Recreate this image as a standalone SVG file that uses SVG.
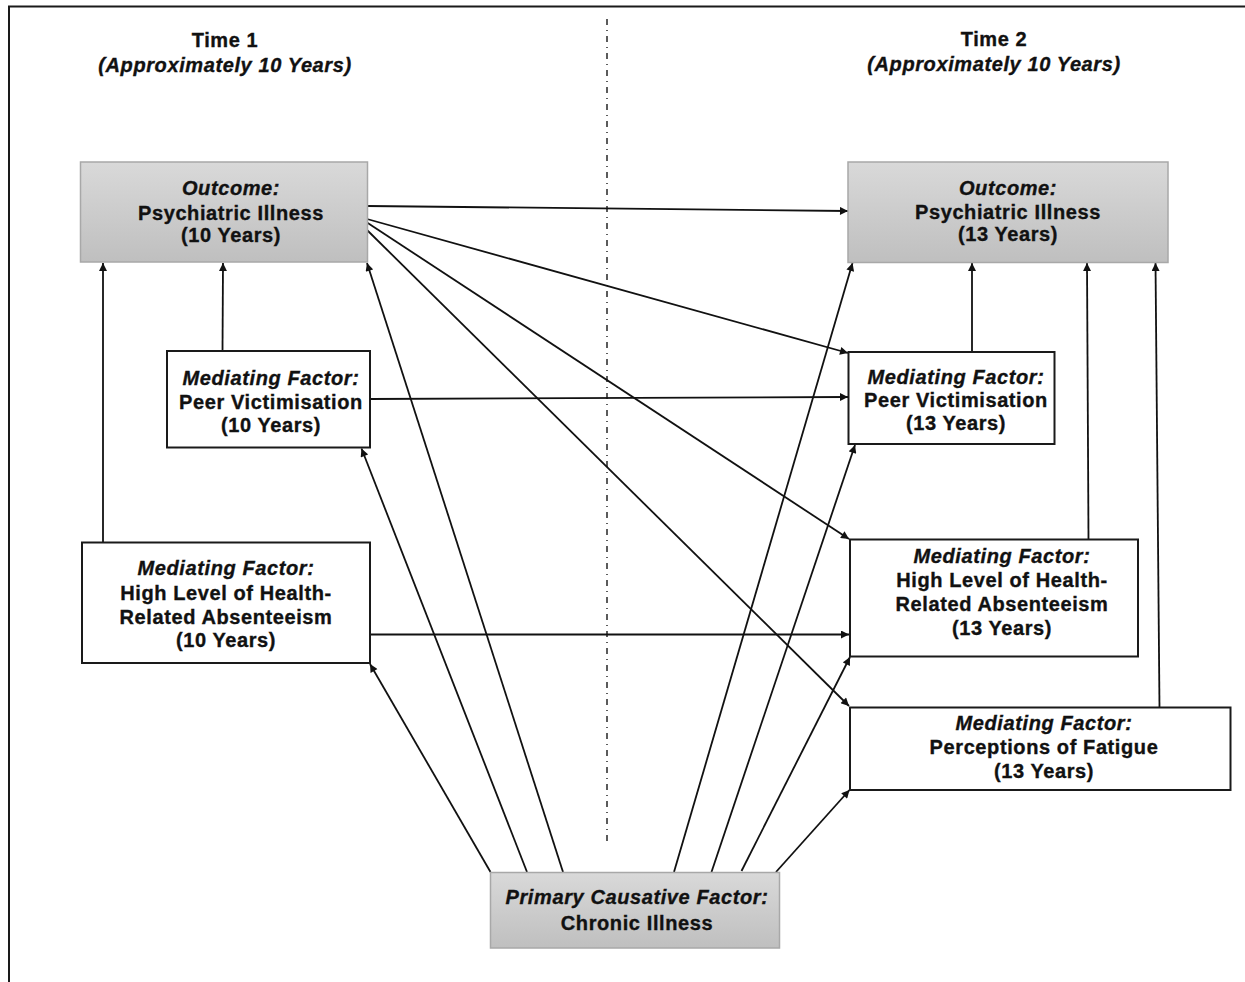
<svg xmlns="http://www.w3.org/2000/svg" width="1245" height="982" viewBox="0 0 1245 982">
  <defs>
    <linearGradient id="greyFill" x1="0" y1="0" x2="0" y2="1">
      <stop offset="0" stop-color="#d9d9d9"/>
      <stop offset="1" stop-color="#bfbfbf"/>
    </linearGradient>
    <marker id="arrow" viewBox="0 0 10 10" refX="10" refY="5" markerWidth="10" markerHeight="8" markerUnits="userSpaceOnUse" orient="auto">
      <path d="M0,0 L10,5 L0,10 Z" fill="#111"/>
    </marker>
  </defs>
  <style>
    text { font-family: "Liberation Sans", Arial, sans-serif; font-size: 20px; font-weight: bold; letter-spacing: 0.6px; fill: #111; stroke: #111; stroke-width: 0.35px; text-anchor: middle; }
    .it { font-style: italic; }
    .grey { fill: url(#greyFill); stroke: #a8a8a8; stroke-width: 1.5; }
    .plain { fill: #fff; stroke: #1a1a1a; stroke-width: 2; }
    .link { stroke: #111; stroke-width: 1.8; fill: none; marker-end: url(#arrow); }
  </style>

  <rect width="1245" height="982" fill="#fff"/>

  <!-- frame -->
  <path d="M9,982 V6.5 H1245" fill="none" stroke="#1a1a1a" stroke-width="2"/>

  <!-- time divider -->
  <line x1="607" y1="19" x2="607" y2="846" stroke="#333" stroke-width="1.6" stroke-dasharray="6 5 1 5"/>

  <!-- headers -->
  <g id="header-time1">
    <text x="225" y="46.5">Time 1</text>
    <text class="it" x="225" y="72">(Approximately 10 Years)</text>
  </g>
  <g id="header-time2">
    <text x="994" y="46">Time 2</text>
    <text class="it" x="994" y="71">(Approximately 10 Years)</text>
  </g>

  <!-- connectors -->
  <g id="connectors">
    <line class="link" x1="367" y1="206" x2="848" y2="211"/>
    <line class="link" x1="367" y1="219" x2="848" y2="353"/>
    <line class="link" x1="367" y1="222.5" x2="849" y2="539"/>
    <line class="link" x1="367" y1="230" x2="849" y2="706"/>
    <line class="link" x1="222.5" y1="351" x2="223" y2="263"/>
    <line class="link" x1="103" y1="542" x2="103" y2="263"/>
    <line class="link" x1="370" y1="399" x2="848" y2="397"/>
    <line class="link" x1="370" y1="634.5" x2="849" y2="634.5"/>
    <line class="link" x1="972" y1="352" x2="972" y2="263"/>
    <line class="link" x1="1088.5" y1="539" x2="1087" y2="263"/>
    <line class="link" x1="1159.5" y1="707" x2="1155.5" y2="263"/>
    <line class="link" x1="490.5" y1="872" x2="370" y2="664"/>
    <line class="link" x1="527" y1="872" x2="361.5" y2="448.5"/>
    <line class="link" x1="563" y1="872" x2="367" y2="263"/>
    <line class="link" x1="674" y1="872" x2="852.5" y2="263"/>
    <line class="link" x1="711.5" y1="872" x2="855" y2="445"/>
    <line class="link" x1="741.5" y1="871" x2="850" y2="657"/>
    <line class="link" x1="776" y1="872" x2="849.5" y2="790"/>
  </g>

  <!-- Time 1 nodes -->
  <g id="outcome-10">
    <rect class="grey" x="80.5" y="162" width="287" height="100"/>
    <text class="it" x="231" y="195">Outcome:</text>
    <text x="231" y="219.5">Psychiatric Illness</text>
    <text x="231" y="242">(10 Years)</text>
  </g>
  <g id="peer-10">
    <rect class="plain" x="167" y="351" width="203" height="96.5"/>
    <text class="it" x="271" y="385">Mediating Factor:</text>
    <text x="271" y="408.5">Peer Victimisation</text>
    <text x="271" y="431.5">(10 Years)</text>
  </g>
  <g id="absence-10">
    <rect class="plain" x="82" y="542.5" width="288" height="120.5"/>
    <text class="it" x="226" y="575">Mediating Factor:</text>
    <text x="226" y="600">High Level of Health-</text>
    <text x="226" y="623.5">Related Absenteeism</text>
    <text x="226" y="647">(10 Years)</text>
  </g>

  <!-- Time 2 nodes -->
  <g id="outcome-13">
    <rect class="grey" x="848" y="162" width="320" height="100.5"/>
    <text class="it" x="1008" y="194.5">Outcome:</text>
    <text x="1008" y="218.5">Psychiatric Illness</text>
    <text x="1008" y="241">(13 Years)</text>
  </g>
  <g id="peer-13">
    <rect class="plain" x="848.5" y="352" width="206" height="92"/>
    <text class="it" x="956" y="383.5">Mediating Factor:</text>
    <text x="956" y="407">Peer Victimisation</text>
    <text x="956" y="430">(13 Years)</text>
  </g>
  <g id="absence-13">
    <rect class="plain" x="850" y="539.5" width="288" height="117"/>
    <text class="it" x="1002" y="563">Mediating Factor:</text>
    <text x="1002" y="587">High Level of Health-</text>
    <text x="1002" y="611">Related Absenteeism</text>
    <text x="1002" y="634.5">(13 Years)</text>
  </g>
  <g id="fatigue-13">
    <rect class="plain" x="850" y="707.5" width="380.5" height="82.5"/>
    <text class="it" x="1044" y="730">Mediating Factor:</text>
    <text x="1044" y="753.5">Perceptions of Fatigue</text>
    <text x="1044" y="777.5">(13 Years)</text>
  </g>

  <!-- cause -->
  <g id="chronic-illness">
    <rect class="grey" x="490.5" y="872.5" width="289" height="75.5"/>
    <text class="it" x="637" y="903.5">Primary Causative Factor:</text>
    <text x="637" y="929.5">Chronic Illness</text>
  </g>
</svg>
